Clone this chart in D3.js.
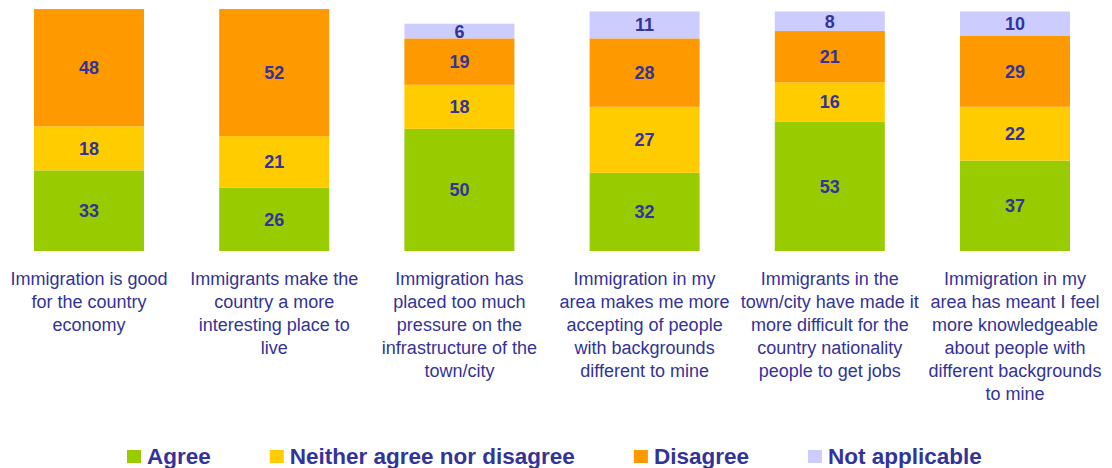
<!DOCTYPE html>
<html>
<head>
<meta charset="utf-8">
<script src="https://cdn.jsdelivr.net/npm/d3@7/dist/d3.min.js"></script>
<style>
  html, body { margin: 0; padding: 0; background: #fff; }
  svg { display: block; font-family: "Liberation Sans", Arial, sans-serif; }
</style>
</head>
<body>
<svg id="chart" width="1112" height="468"></svg>
<script>
const categories = [
  "Immigration is good\nfor the country\neconomy",
  "Immigrants make the\ncountry a more\ninteresting place to\nlive",
  "Immigration has\nplaced too much\npressure on the\ninfrastructure of the\ntown/city",
  "Immigration in my\narea makes me more\naccepting of people\nwith backgrounds\ndifferent to mine",
  "Immigrants in the\ntown/city have made it\nmore difficult for the\ncountry nationality\npeople to get jobs",
  "Immigration in my\narea has meant I feel\nmore knowledgeable\nabout people with\ndifferent backgrounds\nto mine"
];
const seriesNames = ["Agree", "Neither agree nor disagree", "Disagree", "Not applicable"];
const agree        = [33, 26, 50, 32, 53, 37];
const neither      = [18, 21, 18, 27, 16, 22];
const disagree     = [48, 52, 19, 28, 21, 29];
const notApplicable = [0, 0, 6, 11, 8, 10];
const colors = ["#99CC00", "#FFCC00", "#FF9900", "#CCCCFF"];

const svg = d3.select("#chart");
const textColor = "#333399";

const rows = categories.map((c, i) => ({
  cat: c, idx: i,
  "Agree": agree[i],
  "Neither agree nor disagree": neither[i],
  "Disagree": disagree[i],
  "Not applicable": notApplicable[i]
}));

const x = d3.scaleBand()
  .domain(d3.range(categories.length))
  .range([34, 1070])
  .paddingInner(0.406)
  .paddingOuter(0);

const y = d3.scaleLinear().domain([0, 100]).range([251, 6.6]);

const stack = d3.stack().keys(seriesNames);
const stacked = stack(rows);

const layers = svg.append("g").selectAll("g")
  .data(stacked).join("g")
  .attr("fill", (d, i) => colors[i]);

layers.selectAll("rect")
  .data(d => d.filter(p => p[1] - p[0] > 0))
  .join("rect")
  .attr("x", d => x(d.data.idx))
  .attr("width", x.bandwidth())
  .attr("y", d => y(d[1]))
  .attr("height", d => y(d[0]) - y(d[1]));

// value labels
const lbl = svg.append("g");
stacked.forEach(layer => {
  layer.forEach(p => {
    const v = p[1] - p[0];
    if (v <= 0) return;
    lbl.append("text")
      .attr("x", x(p.data.idx) + x.bandwidth() / 2)
      .attr("y", (y(p[0]) + y(p[1])) / 2)
      .attr("dy", "0.36em")
      .attr("text-anchor", "middle")
      .attr("font-size", 18)
      .attr("font-weight", "bold")
      .attr("fill", textColor)
      .text(v);
  });
});

// category labels
const catG = svg.append("g");
categories.forEach((c, i) => {
  const t = catG.append("text")
    .attr("text-anchor", "middle")
    .attr("font-size", 18)
    .attr("fill", textColor);
  c.split("\n").forEach((line, j) => {
    t.append("tspan")
      .attr("x", x(i) + x.bandwidth() / 2)
      .attr("y", 284.5 + j * 23.1)
      .text(line);
  });
});

// legend
const leg = svg.append("g");
let lx = 127;
seriesNames.forEach((name, i) => {
  leg.append("rect")
    .attr("x", lx).attr("y", 450)
    .attr("width", 14).attr("height", 13)
    .attr("fill", colors[i]);
  const t = leg.append("text")
    .attr("x", lx + 20).attr("y", 464)
    .attr("font-size", 22.5)
    .attr("font-weight", "bold")
    .attr("fill", textColor)
    .text(name);
  lx += 20 + t.node().getComputedTextLength() + 59;
});
</script>
</body>
</html>
